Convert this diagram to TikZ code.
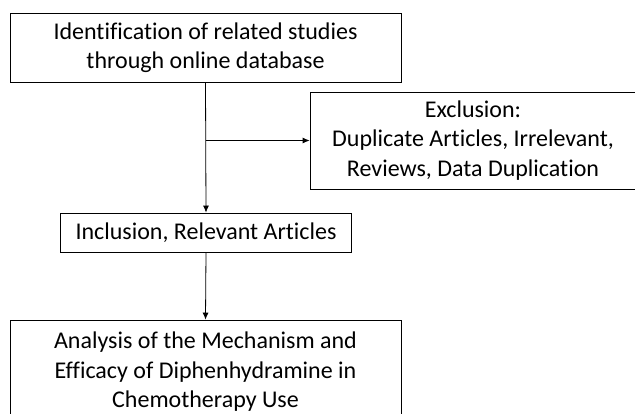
\documentclass[tikz,border=0pt]{standalone}
\usepackage{fontspec}
\setmainfont[Ligatures=NoCommon]{Carlito}
\usetikzlibrary{arrows.meta,positioning}
\begin{document}
\begin{tikzpicture}[x=1pt,y=-1pt,>={Latex[length=7pt,width=6pt]},font=\fontsize{24}{29.5}\selectfont]
    \tikzset{box/.style={draw,rectangle,line width=0.8pt,inner sep=0pt,align=center}}
    \useasboundingbox (0,0) rectangle (635,414);
    \node[box,minimum width=391pt,minimum height=69pt] (ident) at (205.5,47.5) {Identification of related studies\\through online database};
    \node[box,minimum width=326pt,minimum height=97pt] (excl) at (473,140.5) {Exclusion:\\Duplicate Articles, Irrelevant,\\Reviews, Data Duplication};
    \node[box,minimum width=291pt,minimum height=39pt] (incl) at (206,232.5) {Inclusion, Relevant Articles};
    \node[box,minimum width=391pt,minimum height=104pt] (anal) at (205.5,372) {Analysis of the Mechanism and\\Efficacy of Diphenhydramine in\\Chemotherapy Use};
    \coordinate (split) at (ident.south |- excl.west);
    \path[->,line width=0.8pt]
    (ident.south) edge (incl.north)
    (split) edge (excl.west)
    (incl.south) edge (anal.north)
    ;
  \end{tikzpicture}
\end{document}
